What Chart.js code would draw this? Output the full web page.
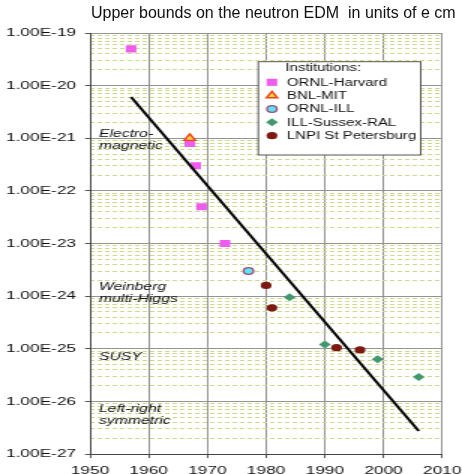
<!DOCTYPE html>
<html>
<head>
<meta charset="utf-8">
<script src="https://cdn.jsdelivr.net/npm/chart.js"></script>
<style>
  html, body { margin: 0; padding: 0; background: #fff; overflow: hidden; }
  body { width: 462px; height: 474px; position: relative; }
  #title {
    position: absolute; left: 91px; top: 5px;
    font: 16px "Liberation Sans", Arial, sans-serif; line-height: 16px;
    white-space: pre; color: #111;
  }
  /* the plot is laid out narrow and widened 1.5x, giving the wide lettering and oval markers */
  #wrap {
    position: absolute; left: 0; top: 0; width: 308px; height: 474px;
    transform: scaleX(1.5); transform-origin: 0 0;
  }
</style>
</head>
<body>
<div id="wrap"><canvas id="edm"></canvas></div>
<div id="title">Upper bounds on the neutron EDM  in units of e cm</div>
<script>
// Upper limits on the neutron electric dipole moment (e cm) by year and experiment
const ornlHarvardYears  = [1957, 1967, 1968, 1969, 1973];
const ornlHarvardLimits = [5e-20, 8e-22, 3e-22, 5e-23, 1e-23];

const bnlMitYears  = [1967];
const bnlMitLimits = [1e-21];

const ornlIllYears  = [1977];
const ornlIllLimits = [3e-24];

const illSussexRalYears  = [1984, 1990, 1999, 2006];
const illSussexRalLimits = [9.5e-25, 1.2e-25, 6.3e-26, 2.9e-26];

const lnpiYears  = [1980, 1981, 1992, 1996];
const lnpiLimits = [1.6e-24, 6e-25, 1.05e-25, 9.5e-26];

// overall trend of the limits
const trendYears  = [1957, 2006];
const trendLimits = [6.1e-21, 2.75e-27];

const institutionNames = ['ORNL-Harvard', 'BNL-MIT', 'ORNL-ILL', 'ILL-Sussex-RAL', 'LNPI St Petersburg'];
const legendHeading = 'Institutions:';

const yearTicks = [1950, 1960, 1970, 1980, 1990, 2000, 2010];
const decadeTicks = [1e-27, 1e-26, 1e-25, 1e-24, 1e-23, 1e-22, 1e-21, 1e-20, 1e-19];
const minorTicks = [];
for (let e = -27; e < -19; e++) {
  for (let k = 2; k <= 9; k++) minorTicks.push(Number(k + 'e' + e));
}

// theory predictions written beside the axis: lines of text and the limit they sit at
const theoryLabels = [
  { lines: ['Electro-', 'magnetic'], at: 1e-21, dy: -4 },
  { lines: ['Weinberg', 'multi-Higgs'], at: 1e-24, dy: -9 },
  { lines: ['SUSY'], at: 1e-25, dy: 8 },
  { lines: ['Left-right', 'symmetric'], at: 1e-26, dy: 8 }
];

const pts = (xs, ys) => xs.map((x, i) => ({ x, y: ys[i] }));
const FONT = '"Liberation Sans", Arial, sans-serif';

const datasets = [
  {
    label: 'trend', type: 'line', data: pts(trendYears, trendLimits),
    borderColor: '#000', borderWidth: 2, pointRadius: 0, fill: false, order: 0
  },
  {
    label: institutionNames[0], data: pts(ornlHarvardYears, ornlHarvardLimits),
    pointStyle: 'rect', pointRadius: 5, backgroundColor: '#ee5cee', borderColor: '#ee5cee', borderWidth: 0, order: 2
  },
  {
    label: institutionNames[1], data: pts(bnlMitYears, bnlMitLimits),
    pointStyle: 'triangle', pointRadius: 4.3, backgroundColor: '#ffd23c', borderColor: '#e4471c', borderWidth: 1.4, order: 1
  },
  {
    label: institutionNames[2], data: pts(ornlIllYears, ornlIllLimits),
    pointStyle: 'circle', pointRadius: 3.3, backgroundColor: '#62e4f0', borderColor: '#9a4c7c', borderWidth: 1.3, order: 2
  },
  {
    label: institutionNames[3], data: pts(illSussexRalYears, illSussexRalLimits),
    pointStyle: 'rectRot', pointRadius: 4, backgroundColor: '#43976e', borderColor: '#43976e', borderWidth: 0, order: 2
  },
  {
    label: institutionNames[4], data: pts(lnpiYears, lnpiLimits),
    pointStyle: 'circle', pointRadius: 3.6, backgroundColor: '#7a1a12', borderColor: '#7a1a12', borderWidth: 0, order: 2
  }
];

function drawMarker(ctx, ds, x, y) {
  const opts = {
    pointStyle: ds.pointStyle, radius: ds.pointRadius, rotation: 0,
    borderWidth: ds.borderWidth
  };
  ctx.save();
  ctx.fillStyle = ds.backgroundColor;
  ctx.strokeStyle = ds.borderColor;
  ctx.lineWidth = ds.borderWidth;
  if (Chart.helpers && Chart.helpers.drawPoint) {
    Chart.helpers.drawPoint(ctx, opts, x, y);
  } else {
    ctx.beginPath();
    ctx.arc(x, y, ds.pointRadius, 0, Math.PI * 2);
    ctx.fill();
  }
  ctx.restore();
}

// legend box with heading, drawn over the grid inside the plot
const institutionLegend = {
  id: 'institutionLegend',
  afterDatasetsDraw(chart) {
    const ctx = chart.ctx;
    const box = { left: 172.2, top: 61.7, right: 280.5, bottom: 155 };
    ctx.save();
    ctx.fillStyle = '#fff';
    ctx.fillRect(box.left, box.top, box.right - box.left, box.bottom - box.top);
    ctx.strokeStyle = '#555';
    ctx.lineWidth = 1;
    ctx.strokeRect(box.left, box.top, box.right - box.left, box.bottom - box.top);
    ctx.font = '10px ' + FONT;
    ctx.fillStyle = '#111';
    ctx.textBaseline = 'middle';
    ctx.textAlign = 'center';
    ctx.fillText(legendHeading, 215.6, 68.5);
    ctx.textAlign = 'left';
    const sets = chart.data.datasets.slice(1);
    sets.forEach((ds, i) => {
      const y = 82.3 + i * 13.35;
      drawMarker(ctx, ds, 181.3, y);
      ctx.fillStyle = '#111';
      ctx.fillText(ds.label, 191.3, y + 0.5);
    });
    ctx.restore();
  }
};

// italic theory captions placed against the limit scale
const theoryCaptions = {
  id: 'theoryCaptions',
  afterDatasetsDraw(chart) {
    const ctx = chart.ctx;
    const yScale = chart.scales.y;
    const x = chart.chartArea.left + 6;
    ctx.save();
    ctx.font = 'italic 10.5px ' + FONT;
    ctx.fillStyle = '#111';
    ctx.textBaseline = 'middle';
    ctx.textAlign = 'left';
    theoryLabels.forEach(t => {
      const y0 = yScale.getPixelForValue(t.at) + t.dy;
      t.lines.forEach((line, i) => ctx.fillText(line, x, y0 + i * 12.2));
    });
    ctx.restore();
  }
};

const expLabel = v => {
  const e = Math.round(Math.log10(v));
  return '1.00E' + (e < 0 ? '-' : '+') + String(Math.abs(e)).padStart(2, '0');
};

new Chart(document.getElementById('edm'), {
  type: 'scatter',
  data: { datasets },
  plugins: [theoryCaptions, institutionLegend],
  options: {
    responsive: true,
    maintainAspectRatio: false,
    animation: false,
    events: [],
    layout: { padding: { top: 33, right: 13.2, bottom: 0, left: 0 } },
    plugins: { legend: { display: false }, title: { display: false }, tooltip: { enabled: false } },
    scales: {
      x: {
        type: 'linear', min: 1950, max: 2010,
        afterBuildTicks: s => { s.ticks = yearTicks.map(v => ({ value: v })); },
        afterFit: s => { s.height = 20; s.paddingLeft = 0; s.paddingRight = 0; },
        ticks: {
          callback: v => String(v), color: '#111', padding: 5.5, autoSkip: false, maxRotation: 0,
          font: { family: FONT, size: 11.5 }
        },
        grid: { color: '#939393', lineWidth: 1, tickLength: 4, tickColor: '#555' },
        border: { color: '#444', width: 1 }
      },
      yMinor: {
        type: 'logarithmic', axis: 'y', position: 'left', min: 1e-27, max: 1e-19,
        afterBuildTicks: s => { s.ticks = minorTicks.map(v => ({ value: v })); },
        afterFit: s => { s.width = 0; },
        ticks: { display: false },
        grid: { color: '#cfd88f', lineWidth: 1, drawTicks: false },
        border: { display: false, dash: [3, 2] }
      },
      y: {
        type: 'logarithmic', position: 'left', min: 1e-27, max: 1e-19,
        afterBuildTicks: s => { s.ticks = decadeTicks.map(v => ({ value: v })); },
        afterFit: s => { s.width = 60; },
        ticks: {
          callback: v => expLabel(v), color: '#111', padding: 6, autoSkip: false,
          font: { family: FONT, size: 11.5 }
        },
        grid: { color: '#939393', lineWidth: 1, tickLength: 3.3, tickColor: '#555' },
        border: { color: '#444', width: 1 }
      }
    }
  }
});
</script>
</body>
</html>
